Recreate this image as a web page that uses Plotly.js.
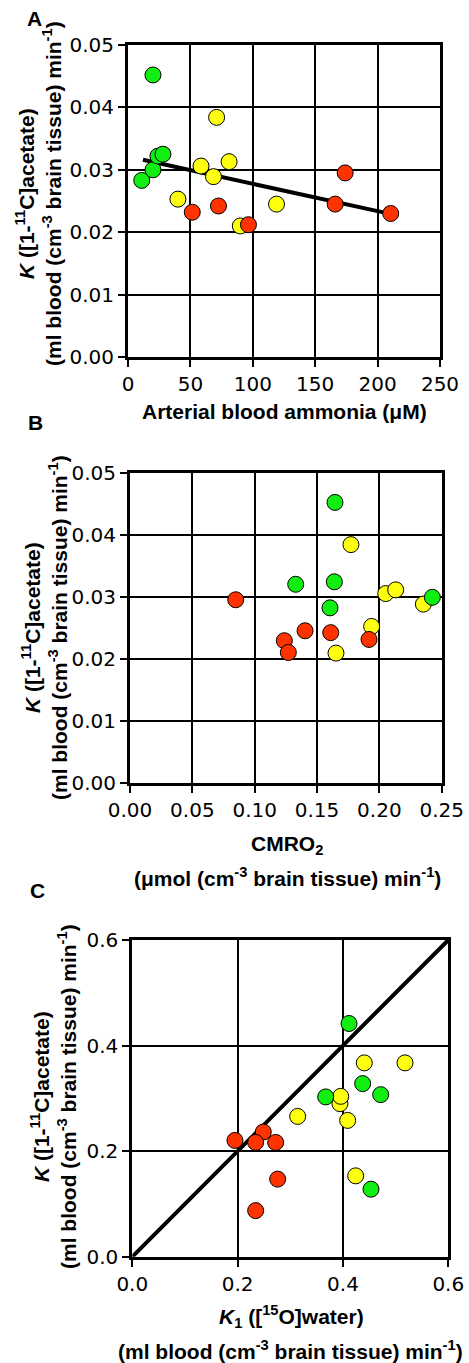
<!DOCTYPE html>
<html>
<head>
<meta charset="utf-8">
<script src="https://cdn.plot.ly/plotly-3.0.1.min.js"></script>
<style>html,body{margin:0;padding:0;background:#fff;}#chart{width:469px;height:1363px;}</style>
</head>
<body>
<div id="chart"></div>
<script>
// Panel A: arterial blood ammonia (µM) vs K
const aGreenX = [20, 11, 20, 24, 28];
const aGreenY = [0.0452, 0.0283, 0.0300, 0.0322, 0.0325];
const aYellowX = [40, 58.5, 68.5, 71, 81, 90, 119];
const aYellowY = [0.0253, 0.0306, 0.0289, 0.0384, 0.0313, 0.0210, 0.0245];
const aRedX = [51.5, 72.5, 96.5, 166, 174, 210.5];
const aRedY = [0.0232, 0.0242, 0.0212, 0.0245, 0.0295, 0.0230];
const aLineX = [12, 211];
const aLineY = [0.0316, 0.0229];

// Panel B: CMRO2 vs K
const bGreenX = [0.1644, 0.1329, 0.1639, 0.1604, 0.2425];
const bGreenY = [0.0453, 0.0321, 0.0325, 0.0283, 0.0300];
const bYellowX = [0.1772, 0.2051, 0.2131, 0.2353, 0.1938, 0.1652];
const bYellowY = [0.0385, 0.0306, 0.0312, 0.0289, 0.0253, 0.0210];
const bRedX = [0.0848, 0.1917, 0.1238, 0.1270, 0.1404, 0.1610];
const bRedY = [0.0296, 0.0232, 0.0230, 0.0211, 0.0246, 0.0243];

// Panel C: K1 ([15O]water) vs K
const cGreenX = [0.4115, 0.4374, 0.4716, 0.3672, 0.4532];
const cGreenY = [0.4418, 0.3279, 0.3070, 0.3027, 0.1279];
const cYellowX = [0.4405, 0.5178, 0.3943, 0.3957, 0.4089, 0.3140, 0.4241];
const cYellowY = [0.3672, 0.3672, 0.2899, 0.3038, 0.2582, 0.2658, 0.1532];
const cRedX = [0.2487, 0.1949, 0.2342, 0.2722, 0.2760, 0.2342];
const cRedY = [0.2362, 0.2203, 0.2165, 0.2165, 0.1470, 0.0873];
const cLineX = [0, 0.6];
const cLineY = [0, 0.6];

const GREEN = '#11EE11', YELLOW = '#FFFF10', RED = '#FF3300';
const H = 1363, W = 469;
const px = v => v / W;
const py = v => 1 - v / H;

function pts(x, y, color, xa, ya) {
  return {x: x, y: y, xaxis: xa, yaxis: ya, type: 'scatter', mode: 'markers',
    marker: {size: 16, color: color, line: {color: '#000', width: 1}},
    showlegend: false, hoverinfo: 'x+y'};
}
function line(x, y, xa, ya) {
  return {x: x, y: y, xaxis: xa, yaxis: ya, type: 'scatter', mode: 'lines',
    line: {color: '#000', width: 4}, showlegend: false, hoverinfo: 'skip'};
}

const data = [
  line(aLineX, aLineY, 'x', 'y'),
  pts(aYellowX, aYellowY, YELLOW, 'x', 'y'),
  pts(aRedX, aRedY, RED, 'x', 'y'),
  pts(aGreenX, aGreenY, GREEN, 'x', 'y'),
  pts(bYellowX, bYellowY, YELLOW, 'x2', 'y2'),
  pts(bRedX, bRedY, RED, 'x2', 'y2'),
  pts(bGreenX, bGreenY, GREEN, 'x2', 'y2'),
  line(cLineX, cLineY, 'x3', 'y3'),
  pts(cYellowX, cYellowY, YELLOW, 'x3', 'y3'),
  pts(cRedX, cRedY, RED, 'x3', 'y3'),
  pts(cGreenX, cGreenY, GREEN, 'x3', 'y3'),
];

const tickFont = {family: 'DejaVu Sans', size: 20, color: '#000'};
function ax(extra) {
  return Object.assign({
    showline: true, linecolor: '#000', linewidth: 3, mirror: true,
    showgrid: true, gridcolor: '#000', gridwidth: 1.5,
    zeroline: false, ticks: 'outside', ticklen: 7, tickwidth: 2, tickcolor: '#000',
    tickfont: tickFont, fixedrange: true
  }, extra);
}

const titleFont = {family: 'Liberation Sans', size: 21, color: '#000', weight: 'bold'};
function ann(text, x, y, extra) {
  return Object.assign({text: text, x: px(x), y: py(y), xref: 'paper', yref: 'paper',
    showarrow: false, xanchor: 'center', yanchor: 'middle', font: titleFont}, extra || {});
}
const yTitle = '<i>K</i> ([1-<sup>11</sup>C]acetate)<br>(ml blood (cm<sup>-3</sup> brain tissue) min<sup>-1</sup>)';

const layout = {
  width: W, height: H,
  margin: {l: 0, r: 0, t: 0, b: 0},
  paper_bgcolor: '#fff', plot_bgcolor: '#fff',
  xaxis: ax({domain: [px(128), px(440)], range: [0, 250], dtick: 50, anchor: 'y'}),
  yaxis: ax({domain: [py(357), py(45)], range: [0, 0.05], dtick: 0.01, tickformat: '.2f', anchor: 'x'}),
  xaxis2: ax({domain: [px(130), px(441.7)], range: [0, 0.25], dtick: 0.05, tickformat: '.2f', anchor: 'y2'}),
  yaxis2: ax({domain: [py(783.3), py(473.3)], range: [0, 0.05], dtick: 0.01, tickformat: '.2f', anchor: 'x2'}),
  xaxis3: ax({domain: [px(132.3), px(448.3)], range: [0, 0.6], dtick: 0.2, tickformat: '.1f', anchor: 'y3'}),
  yaxis3: ax({domain: [py(1256.7), py(940)], range: [0, 0.6], dtick: 0.2, tickformat: '.1f', anchor: 'x3'}),
  annotations: [
    ann('A', 34, 18),
    ann('B', 35, 423),
    ann('C', 37, 890),
    ann(yTitle, 38, 194, {textangle: -90}),
    ann(yTitle, 44, 628, {textangle: -90}),
    ann(yTitle, 53, 1097, {textangle: -90}),
    ann('Arterial blood ammonia (μM)', 284, 412),
    ann('CMRO<sub>2</sub>', 287, 845),
    ann('(μmol (cm<sup>-3</sup> brain tissue) min<sup>-1</sup>)', 287, 877),
    ann('<i>K</i><sub>1</sub> ([<sup>15</sup>O]water)', 291, 1316),
    ann('(ml blood (cm<sup>-3</sup> brain tissue) min<sup>-1</sup>)', 290, 1350)
  ]
};

Plotly.newPlot('chart', data, layout, {displayModeBar: false});
</script>
</body>
</html>
